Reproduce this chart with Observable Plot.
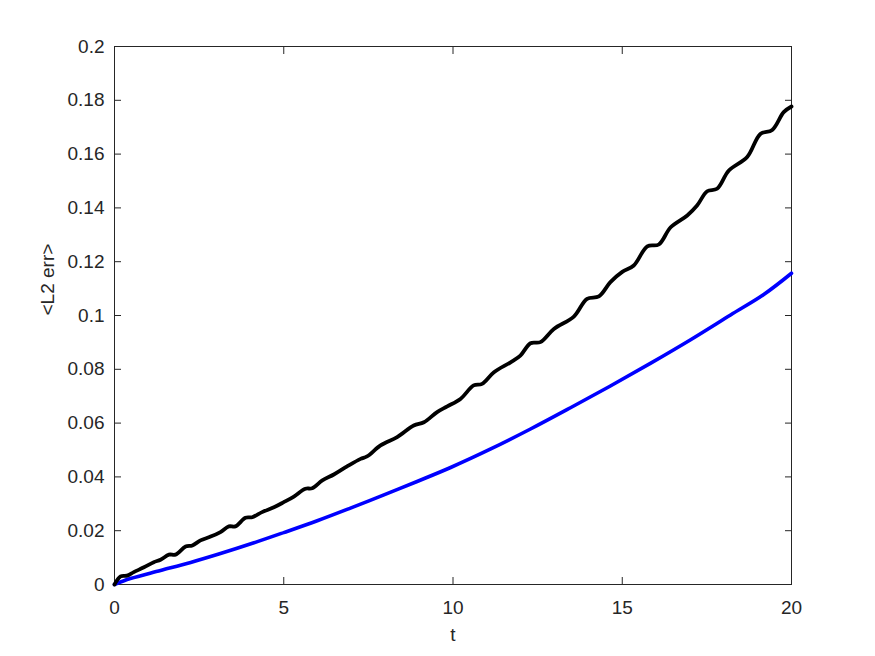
<!DOCTYPE html>
<html>
<head>
<meta charset="utf-8">
<script src="https://cdn.jsdelivr.net/npm/d3@7"></script>
<script src="https://cdn.jsdelivr.net/npm/@observablehq/plot@0.6"></script>
<style>
  html, body { margin: 0; padding: 0; background: #fff; }
  #chart { width: 875px; height: 656px; }
  svg { display: block; }
</style>
</head>
<body>
<div id="chart"></div>
<script>
// Black curve (oscillating)
const blackT = [0,0.18,0.37,0.57,0.87,1.16,1.36,1.61,1.80,2.10,2.30,2.54,2.84,3.13,3.38,3.57,3.87,4.07,4.36,4.71,5.0,5.3,5.64,5.84,6.14,6.48,6.87,7.27,7.46,7.86,8.35,8.84,9.14,9.53,9.83,10.22,10.61,10.86,11.21,11.70,11.99,12.29,12.58,12.98,13.57,13.96,14.31,14.65,15.0,15.34,15.74,16.08,16.43,16.92,17.21,17.51,17.80,18.15,18.69,19.08,19.43,19.77,20.0];
const blackV = [0,0.003,0.0033,0.0046,0.0064,0.0083,0.0092,0.0111,0.0111,0.0141,0.0145,0.0164,0.0178,0.0195,0.0216,0.0216,0.0248,0.025,0.0269,0.0287,0.0306,0.0327,0.0356,0.0358,0.0387,0.0409,0.0439,0.0467,0.0476,0.0517,0.0548,0.0591,0.0603,0.0641,0.0662,0.069,0.074,0.0746,0.0789,0.0826,0.0851,0.0897,0.0901,0.095,0.0996,0.1062,0.1071,0.1124,0.1162,0.1186,0.1257,0.1264,0.1328,0.1372,0.1409,0.1462,0.1471,0.1539,0.1589,0.1675,0.169,0.1756,0.1777];

// Blue curve (smooth)
const blueT = [0,0.47,1.36,2.25,3.13,4.12,5.0,5.99,6.97,7.96,8.94,9.93,11.1,12.29,13.47,14.65,15.83,17.02,18.2,19.18,20.0];
const blueV = [0,0.0022,0.0052,0.0082,0.0115,0.0155,0.0193,0.0237,0.0284,0.0333,0.0383,0.0435,0.0503,0.0578,0.0657,0.0738,0.0822,0.091,0.1002,0.1078,0.1157];

const xTicks = [0,5,10,15,20];
const yTicks = [0,0.02,0.04,0.06,0.08,0.1,0.12,0.14,0.16,0.18,0.2];
const xLabel = "t";
const yLabel = "<L2 err>";

const black = blackT.map((t,i) => ({t, v: blackV[i]}));
const blue = blueT.map((t,i) => ({t, v: blueV[i]}));

const axisColor = "#262626";
const fontFamily = "'Liberation Sans', Arial, Helvetica, sans-serif";

const chart = Plot.plot({
  width: 875,
  height: 656,
  marginLeft: 114,
  marginRight: 84,
  marginTop: 46,
  marginBottom: 72,
  style: {fontFamily, fontSize: "19px", color: axisColor, background: "#fff"},
  x: {domain: [0,20], ticks: xTicks},
  y: {domain: [0,0.2], ticks: yTicks},
  marks: [
    Plot.axisX(xTicks, {anchor: "bottom", tickSize: -7, tickPadding: 23, label: null, stroke: axisColor, fill: axisColor, tickFormat: d => String(d)}),
    Plot.axisX(xTicks, {anchor: "top", tickSize: -7, tickFormat: () => "", label: null, stroke: axisColor}),
    Plot.axisY(yTicks, {anchor: "left", tickSize: -7, tickPadding: 17, label: null, stroke: axisColor, fill: axisColor, tickFormat: d => String(d)}),
    Plot.axisY(yTicks, {anchor: "right", tickSize: -7, tickFormat: () => "", label: null, stroke: axisColor}),
    Plot.frame({stroke: axisColor, strokeWidth: 1}),
    Plot.line(blue, {x: "t", y: "v", stroke: "#0000ff", strokeWidth: 3.6, curve: "catmull-rom"}),
    Plot.line(black, {x: "t", y: "v", stroke: "#000000", strokeWidth: 3.8, curve: "catmull-rom"}),
    Plot.text([yLabel], {frameAnchor: "left", dx: -67, rotate: -90, text: d => d, fill: axisColor, fontSize: 19}),
    Plot.text([xLabel], {frameAnchor: "bottom", dy: 56, text: d => d, fill: axisColor, fontSize: 19})
  ]
});
document.getElementById("chart").appendChild(chart);
</script>
</body>
</html>
